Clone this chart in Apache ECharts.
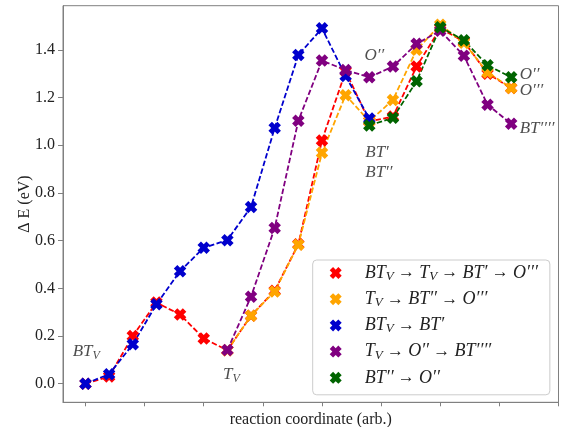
<!DOCTYPE html>
<html>
<head>
<meta charset="utf-8">
<script src="https://cdn.jsdelivr.net/npm/echarts@6/dist/echarts.min.js"></script>
<style>
  html, body { margin: 0; padding: 0; background: #fff; }
  #chart { width: 562px; height: 427px; }
</style>
</head>
<body>
<div id="chart"></div>
<script>
// ---- data ----
const steps = [0, 1, 2, 3, 4, 5, 6, 7, 8, 9, 10, 11, 12, 13, 14, 15, 16, 17, 18];
const redE    = [0.00, 0.03, 0.20, 0.34, 0.29, 0.19, 0.14, 0.285, 0.39, 0.585, 1.02, 1.31, 1.10, 1.12, 1.33, 1.49, 1.435, 1.30, 1.24];
const orangeE = [null, null, null, null, null, null, 0.14, 0.285, 0.387, 0.583, 0.968, 1.21, 1.10, 1.19, 1.40, 1.505, 1.43, 1.305, 1.24];
const blueE   = [0.00, 0.04, 0.165, 0.333, 0.472, 0.57, 0.602, 0.741, 1.072, 1.378, 1.49, 1.29, 1.112, null, null, null, null, null, null];
const purpleE = [null, null, null, null, null, null, 0.141, 0.365, 0.653, 1.103, 1.355, 1.315, 1.285, 1.33, 1.425, 1.48, 1.375, 1.17, 1.09];
const greenE  = [null, null, null, null, null, null, null, null, null, null, null, null, 1.083, 1.115, 1.268, 1.495, 1.44, 1.335, 1.285];

const seriesNames = [
  'BTV → TV → BT′ → O′′′',
  'TV → BT′′ → O′′′',
  'BTV → BT′',
  'TV → O′′ → BT′′′′',
  'BT′′ → O′′'
];
const seriesRich = [
  '{i|BT}{s|V}{n| → }{i|T}{s|V}{n| → }{i|BT′}{n| → }{i|O′′′}',
  '{i|T}{s|V}{n| → }{i|BT′′}{n| → }{i|O′′′}',
  '{i|BT}{s|V}{n| → }{i|BT′}',
  '{i|T}{s|V}{n| → }{i|O′′}{n| → }{i|BT′′′′}',
  '{i|BT′′}{n| → }{i|O′′}'
];
const seriesColors = ['#ff0000', '#ffa500', '#0000cd', '#800080', '#006400'];
const seriesValues = [redE, orangeE, blueE, purpleE, greenE];

const xTicks = [0, 2.5, 5, 7.5, 10, 12.5, 15, 17.5, 20];
const yTicks = [0.0, 0.2, 0.4, 0.6, 0.8, 1.0, 1.2, 1.4];

// annotation texts anchored at data coordinates (left edge, vertical centre)
const annotations = [
  [-0.54, 0.133, '{i|BT}{s|V}'],
  [5.82, 0.038, '{i|T}{s|V}'],
  [11.8, 1.375, '{i|O′′}'],
  [11.83, 0.97, '{i|BT′}'],
  [11.83, 0.886, '{i|BT′′}'],
  [18.36, 1.295, '{i|O′′}'],
  [18.36, 1.229, '{i|O′′′}'],
  [18.36, 1.069, '{i|BT′′′′}']
];

// ---- styles ----
const SERIF = "'Liberation Serif', 'DejaVu Serif', serif";
const XPATH = 'path://M2.8,0 L5,2.2 L7.2,0 L10,2.8 L7.8,5 L10,7.2 L7.2,10 L5,7.8 L2.8,10 L0,7.2 L2.2,5 L0,2.8 Z';
const richAnn = {
  i: { fontFamily: SERIF, fontStyle: 'italic', fontSize: 17, lineHeight: 20, color: '#222', verticalAlign: 'middle' },
  s: { fontFamily: SERIF, fontStyle: 'italic', fontSize: 12, lineHeight: 9, color: '#222', verticalAlign: 'bottom' },
  n: { fontFamily: SERIF, fontSize: 16, lineHeight: 20, color: '#222', verticalAlign: 'middle' }
};
const richLeg = {
  i: { fontFamily: SERIF, fontStyle: 'italic', fontSize: 18, lineHeight: 20, color: '#222', verticalAlign: 'middle' },
  s: { fontFamily: SERIF, fontStyle: 'italic', fontSize: 13, lineHeight: 9, color: '#222', verticalAlign: 'bottom' },
  n: { fontFamily: SERIF, fontSize: 17, lineHeight: 20, color: '#222', verticalAlign: 'middle' }
};
const frameColor = '#808080';

const chart = echarts.init(document.getElementById('chart'), null, { renderer: 'canvas' });

const series = seriesNames.map((name, k) => ({
  name: name,
  type: 'line',
  data: steps.map((s, j) => [s, seriesValues[k][j]]),
  connectNulls: false,
  symbol: XPATH,
  symbolSize: 12.5,
  showAllSymbol: true,
  color: seriesColors[k],
  itemStyle: { color: seriesColors[k] },
  lineStyle: { color: seriesColors[k], width: 1.8, type: [5.5, 2.4] },
  emphasis: { disabled: true },
  animation: false
}));

series.push({
  name: 'annotations',
  type: 'scatter',
  data: annotations.map(a => ({ value: [a[0], a[1]], label: { formatter: a[2] } })),
  symbolSize: 0,
  silent: true,
  animation: false,
  label: {
    show: true,
    position: 'right',
    distance: 0,
    rich: richAnn
  },
  z: 10
});

const option = {
  backgroundColor: '#ffffff',
  animation: false,
  grid: {
    left: 63, right: 3.5, top: 5.7, bottom: 24.7,
    containLabel: false,
    outerBoundsMode: 'none',
    show: true, borderColor: frameColor, borderWidth: 1
  },
  xAxis: {
    type: 'value',
    min: -0.95, max: 20,
    name: 'reaction coordinate (arb.)',
    nameLocation: 'middle',
    nameGap: 9,
    nameMoveOverlap: false,
    nameTextStyle: { fontFamily: SERIF, fontSize: 16, color: '#222', verticalAlign: 'top' },
    axisLine: { show: true, onZero: false, lineStyle: { color: frameColor, width: 1 } },
    axisTick: { show: true, inside: false, length: 4, customValues: xTicks, lineStyle: { color: frameColor } },
    axisLabel: { show: false },
    splitLine: { show: false }
  },
  yAxis: {
    type: 'value',
    min: -0.078, max: 1.585,
    name: 'Δ E (eV)',
    nameLocation: 'middle',
    nameGap: 30,
    nameMoveOverlap: false,
    nameRotate: 90,
    nameTextStyle: { fontFamily: SERIF, fontSize: 16, color: '#222' },
    axisLine: { show: true, onZero: false, lineStyle: { color: frameColor, width: 1 } },
    axisTick: { show: true, inside: false, length: 5, customValues: yTicks, lineStyle: { color: frameColor } },
    axisLabel: {
      show: true, customValues: yTicks, margin: 8,
      formatter: v => v.toFixed(1),
      fontFamily: SERIF, fontSize: 16, color: '#222'
    },
    splitLine: { show: false }
  },
  legend: {
    data: seriesNames,
    orient: 'vertical',
    left: 312.7,
    top: 260,
    padding: [4, 12, 8, 17],
    itemGap: 7.2,
    itemWidth: 40,
    itemHeight: 12,
    icon: XPATH,
    backgroundColor: 'rgba(255,255,255,0.85)',
    borderColor: '#cccccc',
    borderWidth: 1,
    borderRadius: 4,
    selectedMode: false,
    formatter: name => seriesRich[seriesNames.indexOf(name)],
    textStyle: { padding: [0, 0, 0, 4], rich: richLeg }
  },
  series: series
};

chart.setOption(option);
</script>
</body>
</html>
